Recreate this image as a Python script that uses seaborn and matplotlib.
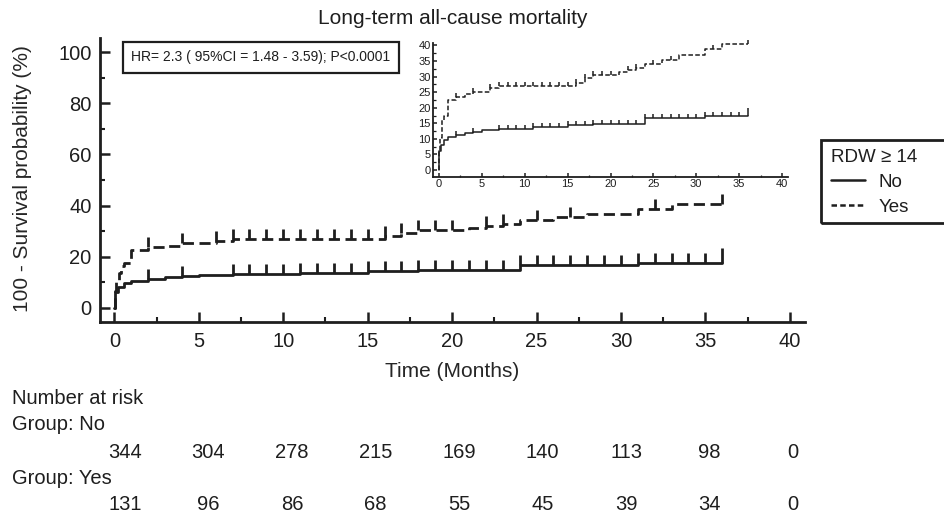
import numpy as np
import matplotlib
matplotlib.use("Agg")
import matplotlib.pyplot as plt
from matplotlib.path import Path
from matplotlib.patches import Rectangle
from matplotlib.lines import Line2D
from matplotlib.ticker import MultipleLocator
from matplotlib.transforms import blended_transform_factory
import seaborn as sns

# ---------------- data ----------------
title = "Long-term all-cause mortality"
xlabel = "Time (Months)"
ylabel = "100 - Survival probability (%)"
hr_text = "HR= 2.3 ( 95%CI = 1.48 - 3.59); P<0.0001"
legend_title = "RDW \u2265 14"
group_labels = ["No", "Yes"]

no_time = [0, 0.05, 0.2, 0.55, 1.0, 2.0, 3.0, 4.0, 5.0, 7.0, 11.0, 15.0, 18.0, 24.0, 31.0, 36.0]
no_pct = [0, 6.0, 8.0, 9.6, 10.6, 11.3, 11.9, 12.3, 12.7, 13.1, 13.7, 14.3, 14.9, 16.6, 17.4, 17.4]
no_censor = [2, 4, 7, 8, 9, 10, 11, 12, 13, 14, 15, 16, 17, 18, 19, 20, 21, 22, 23, 24,
             25, 26, 27, 28, 29, 30, 31, 32, 33, 34, 35]
no_end_censor = [36]

yes_time = [0, 0.02, 0.1, 0.3, 0.4, 0.6, 1.0, 2.0, 3.0, 4.0, 6.0, 7.0, 16.0, 17.0, 18.0,
            21.0, 22.0, 23.0, 24.0, 26.0, 28.0, 31.0, 33.0, 36.0]
yes_pct = [0, 6.5, 10.3, 13.6, 16.2, 17.5, 22.4, 23.6, 24.3, 25.2, 26.3, 26.9, 28.0, 29.4, 30.4,
           31.4, 32.0, 32.8, 34.2, 35.4, 36.8, 38.8, 40.5, 40.5]
yes_censor = [2, 4, 6, 7, 8, 9, 10, 11, 12, 13, 14, 15, 16, 17, 18, 19, 20, 22, 23, 25, 27, 32, 36]

risk_times = [0, 5, 10, 15, 20, 25, 30, 35, 40]
risk_no = [344, 304, 278, 215, 169, 140, 113, 98, 0]
risk_yes = [131, 96, 86, 68, 55, 45, 39, 34, 0]

# ---------------- style ----------------
sns.set_style("ticks")
plt.rcParams["font.family"] = ["Liberation Sans", "DejaVu Sans"]
INK = "#1e1e1e"
plt.rcParams["text.color"] = INK
plt.rcParams["axes.edgecolor"] = INK
plt.rcParams["xtick.color"] = INK
plt.rcParams["ytick.color"] = INK

W, H = 944, 515
fig = plt.figure(figsize=(W / 100, H / 100), dpi=100)
fig.patch.set_facecolor("white")


def fx(px):
    return px / W


def fy(py):
    return 1 - py / H


UP = Path([(0, 0), (0, 1)], [Path.MOVETO, Path.LINETO])


def step_at(times, vals, pts):
    t = np.asarray(times)
    v = np.asarray(vals)
    idx = np.searchsorted(t, np.asarray(pts), side="right") - 1
    return v[idx]


def draw_curves(ax, lw, dash, ms, ms_end, clip=True):
    sns.lineplot(x=no_time, y=no_pct, ax=ax, drawstyle="steps-post", color=INK, lw=lw,
                 estimator=None, sort=False, clip_on=clip)
    sns.lineplot(x=yes_time, y=yes_pct, ax=ax, drawstyle="steps-post", color=INK, lw=lw,
                 estimator=None, sort=False, clip_on=clip)
    ax.lines[-1].set_dashes(dash)
    ax.plot(no_censor, step_at(no_time, no_pct, no_censor), linestyle="none", marker=UP,
            ms=ms, mew=lw, color=INK, clip_on=clip)
    ax.plot(no_end_censor, step_at(no_time, no_pct, no_end_censor), linestyle="none", marker=UP,
            ms=ms_end, mew=lw, color=INK, clip_on=clip)
    ax.plot(yes_censor, step_at(yes_time, yes_pct, yes_censor), linestyle="none", marker=UP,
            ms=ms, mew=lw, color=INK, clip_on=clip)


# ---------------- main axes ----------------
ax = fig.add_axes([fx(100), fy(322), fx(805) - fx(100), fy(38) - fy(322)])
draw_curves(ax, lw=2.0, dash=(4, 2), ms=14.4, ms_end=22)
ax.set_xlim(-0.85, 40.9)
ax.set_ylim(-5.6, 105.6)
sns.despine(ax=ax)
for s in ["left", "bottom"]:
    ax.spines[s].set_linewidth(2.0)
ax.xaxis.set_major_locator(MultipleLocator(5))
ax.xaxis.set_minor_locator(MultipleLocator(2.5))
ax.yaxis.set_major_locator(MultipleLocator(20))
ax.yaxis.set_minor_locator(MultipleLocator(10))
ax.set_yticks([0, 20, 40, 60, 80, 100])
ax.tick_params(which="major", direction="in", length=7.5, width=1.8, labelsize=14.5)
ax.tick_params(which="minor", direction="in", length=3.8, width=1.5)
ax.tick_params(axis="x", which="major", pad=7)
ax.tick_params(axis="y", which="major", pad=6)
ax.set_xlabel(xlabel, fontsize=15)
ax.set_ylabel(ylabel, fontsize=15)
ax.xaxis.set_label_coords(0.5, -0.14)
ax.xaxis.label.set_va("top")
ax.yaxis.set_label_coords(-0.097, 0.505)
ax.set_facecolor("none")

fig.text(fx(453), fy(18), title, ha="center", va="center", fontsize=15)

fig.text(fx(261), fy(57.5), hr_text, ha="center", va="center", fontsize=10,
         bbox=dict(boxstyle="square,pad=0.6", fc="white", ec=INK, lw=1.6))

# ---------------- inset ----------------
ins = fig.add_axes([fx(433), fy(176.7), fx(788) - fx(433), fy(43) - fy(176.7)])
draw_curves(ins, lw=1.1, dash=(3.0, 1.5), ms=5.8, ms_end=11, clip=False)
ins.set_xlim(-0.7, 40.7)
ins.set_ylim(-2.15, 40.8)
sns.despine(ax=ins)
for s in ["left", "bottom"]:
    ins.spines[s].set_linewidth(1.3)
ins.xaxis.set_major_locator(MultipleLocator(5))
ins.xaxis.set_minor_locator(MultipleLocator(2.5))
ins.yaxis.set_major_locator(MultipleLocator(5))
ins.yaxis.set_minor_locator(MultipleLocator(2.5))
ins.tick_params(which="major", direction="in", length=3.2, width=1.1, labelsize=8, pad=2)
ins.tick_params(which="minor", direction="in", length=1.8, width=0.9)
ins.tick_params(axis="y", which="major", pad=1.5)
ins.set_facecolor("none")
ins.set_xlabel("")
ins.set_ylabel("")

# ---------------- legend ----------------
handles = [Line2D([], [], color=INK, lw=1.8),
           Line2D([], [], color=INK, lw=1.8, dashes=(2.2, 1.3))]
leg = fig.legend(handles, group_labels, title=legend_title, loc="upper left",
                 bbox_to_anchor=(fx(827), fy(145)), frameon=False, fontsize=13.5,
                 title_fontsize=13.5, alignment="left", handlelength=1.85,
                 handletextpad=0.7, labelspacing=0.42, borderpad=0.2, borderaxespad=0)
fig.patches.append(Rectangle((fx(821), fy(223)), fx(960) - fx(821), fy(140) - fy(223),
                             transform=fig.transFigure, fill=False, ec=INK, lw=2.0,
                             clip_on=False))

# ---------------- number at risk ----------------
fig.text(fx(12), fy(398), "Number at risk", ha="left", va="center", fontsize=14.5)
fig.text(fx(12), fy(425), "Group: " + group_labels[0], ha="left", va="center", fontsize=14.5)
fig.text(fx(12), fy(479), "Group: " + group_labels[1], ha="left", va="center", fontsize=14.5)
tab = fig.add_axes([fx(125), fy(515), fx(793) - fx(125), fy(385) - fy(515)])
tab.set_xlim(0, 40)
tab.axis("off")
tr = blended_transform_factory(tab.transData, fig.transFigure)
for t, n in zip(risk_times, risk_no):
    tab.text(t, fy(452), str(n), transform=tr, ha="center", va="center", fontsize=14.5,
             clip_on=False)
for t, n in zip(risk_times, risk_yes):
    tab.text(t, fy(505), str(n), transform=tr, ha="center", va="center", fontsize=14.5,
             clip_on=False)

fig.savefig("out.png", dpi=100)
